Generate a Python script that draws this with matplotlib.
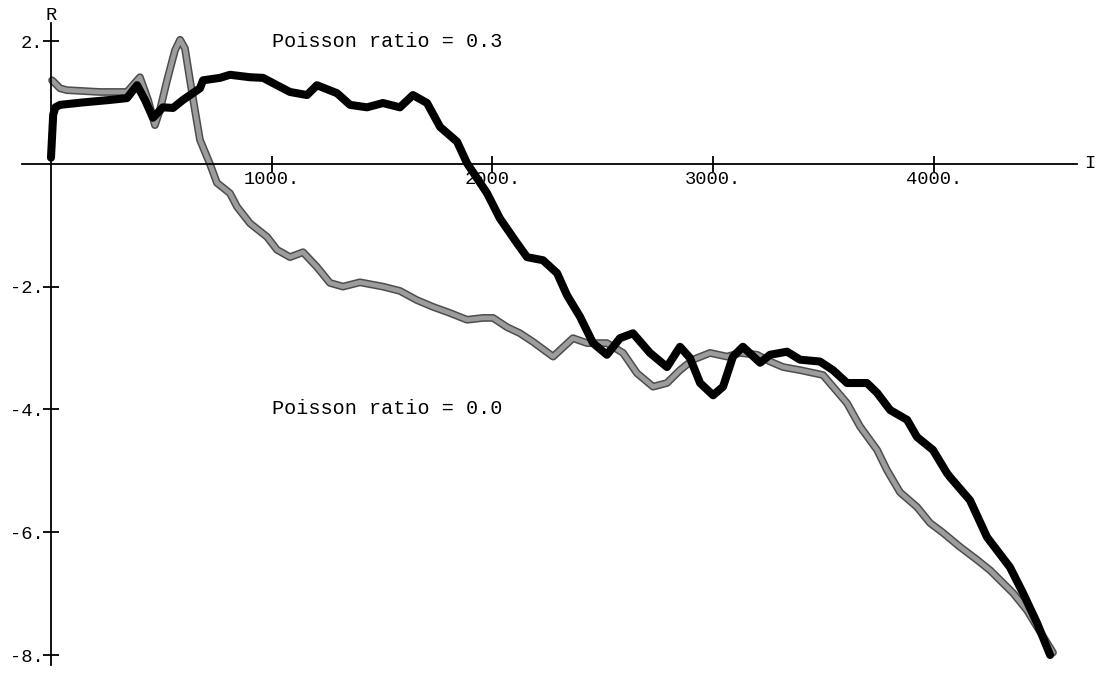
import matplotlib
matplotlib.use("Agg")
import matplotlib.pyplot as plt

# Poisson ratio = 0.3 (black curve)
black_x = [0, 5, 10, 20, 41, 145, 267, 344, 390, 426, 462, 507, 553, 598, 675, 689,
           766, 811, 902, 961, 1024, 1083, 1160, 1205, 1296, 1355, 1432, 1504, 1581,
           1640, 1704, 1763, 1840, 1885, 1976, 2034, 2111, 2157, 2229, 2293, 2338,
           2397, 2456, 2519, 2578, 2637, 2714, 2791, 2850, 2895, 2941, 3000, 3045,
           3090, 3135, 3213, 3258, 3335, 3394, 3484, 3543, 3607, 3697, 3743, 3802,
           3879, 3924, 3996, 4060, 4073, 4164, 4241, 4345, 4404, 4468, 4527]
black_y = [0.1, 0.45, 0.8, 0.92, 0.96, 1.0, 1.04, 1.07, 1.28, 1.04, 0.75, 0.92, 0.91,
           1.04, 1.23, 1.36, 1.40, 1.45, 1.41, 1.40, 1.28, 1.17, 1.12, 1.28, 1.15,
           0.96, 0.92, 0.99, 0.92, 1.12, 0.99, 0.60, 0.36, 0.01, -0.48, -0.89, -1.29,
           -1.52, -1.57, -1.78, -2.14, -2.49, -2.92, -3.11, -2.84, -2.76, -3.08,
           -3.31, -2.98, -3.16, -3.57, -3.77, -3.63, -3.14, -2.98, -3.24, -3.11,
           -3.06, -3.19, -3.22, -3.36, -3.57, -3.57, -3.73, -4.01, -4.17, -4.45,
           -4.66, -5.04, -5.10, -5.48, -6.08, -6.57, -6.99, -7.48, -8.0]

# Poisson ratio = 0.0 (grey curve)
grey_x = [5, 41, 72, 222, 344, 403, 440, 471, 494, 526, 562, 585, 607, 630, 652, 675,
          720, 752, 811, 843, 902, 979, 1024, 1083, 1142, 1205, 1264, 1323, 1400,
          1504, 1581, 1658, 1731, 1808, 1885, 1957, 2003, 2066, 2125, 2184, 2275,
          2365, 2429, 2519, 2592, 2655, 2728, 2791, 2850, 2909, 2986, 3063, 3122,
          3199, 3258, 3317, 3394, 3498, 3543, 3607, 3666, 3743, 3788, 3847, 3924,
          3983, 4042, 4119, 4196, 4255, 4359, 4422, 4468, 4540]
grey_y = [1.36, 1.23, 1.20, 1.17, 1.17, 1.41, 1.04, 0.63, 0.88, 1.36, 1.85, 2.02, 1.88,
          1.36, 0.88, 0.39, 0.0, -0.31, -0.48, -0.70, -0.97, -1.19, -1.40, -1.52,
          -1.44, -1.68, -1.94, -2.0, -1.93, -2.0, -2.07, -2.22, -2.33, -2.43, -2.54,
          -2.51, -2.51, -2.66, -2.76, -2.90, -3.14, -2.84, -2.92, -2.92, -3.08,
          -3.41, -3.63, -3.57, -3.36, -3.19, -3.08, -3.14, -3.08, -3.11, -3.22,
          -3.31, -3.36, -3.44, -3.63, -3.90, -4.28, -4.66, -4.99, -5.35, -5.59,
          -5.85, -6.01, -6.24, -6.45, -6.62, -6.99, -7.27, -7.54, -7.96]

x_ticks = [1000, 2000, 3000, 4000]
x_ticklabels = ["1000.", "2000.", "3000.", "4000."]
y_ticks = [2, -2, -4, -6, -8]
y_ticklabels = ["2.", "-2.", "-4.", "-6.", "-8."]

mono = "Liberation Mono"

fig = plt.figure(figsize=(11, 6.73), dpi=100)
ax = fig.add_axes([0, 0, 1, 1])
ax.set_xlim(-231, 4753)
ax.set_ylim(-8.293, 2.668)

# grey curve: dark rim + lighter fill to mimic the stippled pen
ax.plot(grey_x, grey_y, color="#4d4d4d", lw=5.6, solid_capstyle="round", zorder=2)
ax.plot(grey_x, grey_y, color="#9c9c9c", lw=3.4, solid_capstyle="round", zorder=2)
ax.plot(black_x, black_y, color="black", lw=5.8, solid_capstyle="round", zorder=3)

for s in ["top", "right"]:
    ax.spines[s].set_visible(False)
ax.spines["left"].set_position(("data", 0))
ax.spines["bottom"].set_position(("data", 0))
ax.spines["left"].set_bounds(-8.17, 2.3)
ax.spines["bottom"].set_bounds(-131, 4650)
ax.spines["left"].set_linewidth(1.3)
ax.spines["bottom"].set_linewidth(1.3)

ax.set_xticks(x_ticks)
ax.set_xticklabels(x_ticklabels, fontfamily=mono, fontsize=13.5)
ax.set_yticks(y_ticks)
ax.set_yticklabels(y_ticklabels, fontfamily=mono, fontsize=13.5)
ax.tick_params(direction="inout", length=11, width=1.3, pad=0)

ax.text(0, 2.42, "R", fontfamily=mono, fontsize=13.5, ha="center", va="center")
ax.text(4708, 0, "I", fontfamily=mono, fontsize=13.5, ha="center", va="center")

ax.text(1000, 2.0, "Poisson ratio = 0.3", fontfamily=mono, fontsize=14.5,
        ha="left", va="center")
ax.text(1000, -3.98, "Poisson ratio = 0.0", fontfamily=mono, fontsize=14.5,
        ha="left", va="center")

fig.savefig("out.png", dpi=100)
